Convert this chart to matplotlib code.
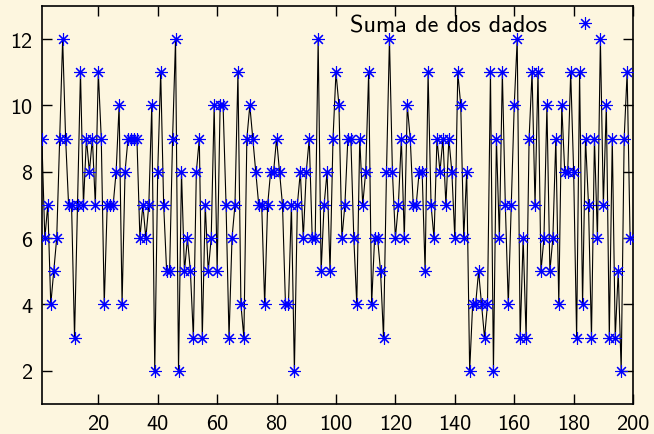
import numpy as np
import matplotlib
matplotlib.use('Agg')
import matplotlib.pyplot as plt

# Sum of two dice, one value per throw
sums = [
    9, 6, 7, 4, 5, 6, 9, 12, 9, 7, 7, 3, 7, 11, 7, 9, 8, 9, 7, 11,
    9, 4, 7, 7, 7, 8, 10, 4, 8, 9, 9, 9, 9, 6, 7,
    6, 7, 10, 2, 8, 11, 7, 5, 5, 9, 12, 2, 8, 5, 6, 5, 3, 8, 9, 3, 7, 5, 6,
    10, 5, 10, 10, 7, 3, 6, 7, 11, 4, 3, 9, 10,
    9, 8, 7, 7, 4, 7, 8, 8, 9, 8, 7, 4, 4, 7, 2, 7, 8, 6, 8, 9,
    6, 6, 12, 5, 7, 8, 5, 9, 11, 10,
    6, 7, 9, 9, 6, 4, 9, 7, 8, 11, 4, 6, 6, 5, 3, 8, 12, 8, 6, 7,
    9, 6, 10, 9, 7, 7, 8, 8, 5, 11,
    7, 6, 9, 8, 9, 7, 9, 8, 6, 11, 10, 6, 8, 2,
    4, 4, 5, 4, 3, 4, 11, 2, 9, 6, 11, 7, 4, 7, 10, 12, 3, 6, 3, 9, 11, 7, 11,
    5, 6, 10, 5, 6, 9, 4, 10, 8,
    8, 11, 8, 3, 11, 4, 9, 7, 3, 9, 6, 12, 7, 10, 3, 9, 3, 5, 2, 9, 11, 6,
]
throws = np.arange(1, len(sums) + 1)
x_ticks = [20, 40, 60, 80, 100, 120, 140, 160, 180, 200]
y_ticks = [2, 4, 6, 8, 10, 12]

bg = '#fdf6df'
plt.rcParams['font.family'] = ['cmss10', 'DejaVu Sans']
plt.rcParams['axes.unicode_minus'] = False

fig = plt.figure(figsize=(6.54, 4.35), dpi=100, facecolor=bg)
ax = fig.add_axes([0.064, 0.069, 0.904, 0.915], facecolor=bg)

star = (8, 2, 0)
ax.plot(throws, sums, color='black', linewidth=0.8, zorder=2)
ax.plot(throws, sums, linestyle='none', marker=star, markersize=9,
        markeredgewidth=0.8, color='#0000ff', label='Suma de dos dados', zorder=3)

ax.set_xlim(1, 200)
ax.set_ylim(1, 13)
ax.set_xticks(x_ticks)
ax.set_yticks(y_ticks)
ax.tick_params(direction='in', length=7, width=1, labelsize=16,
               top=True, right=True, pad=7)
for s in ax.spines.values():
    s.set_linewidth(1.2)

ax.legend(loc='upper right', frameon=False, markerfirst=False, fontsize=17.5,
          handletextpad=1.1, borderaxespad=0.0, handlelength=1.0,
          borderpad=0.1, bbox_to_anchor=(0.944, 0.985))

fig.savefig('out.png', dpi=100, facecolor=bg)
